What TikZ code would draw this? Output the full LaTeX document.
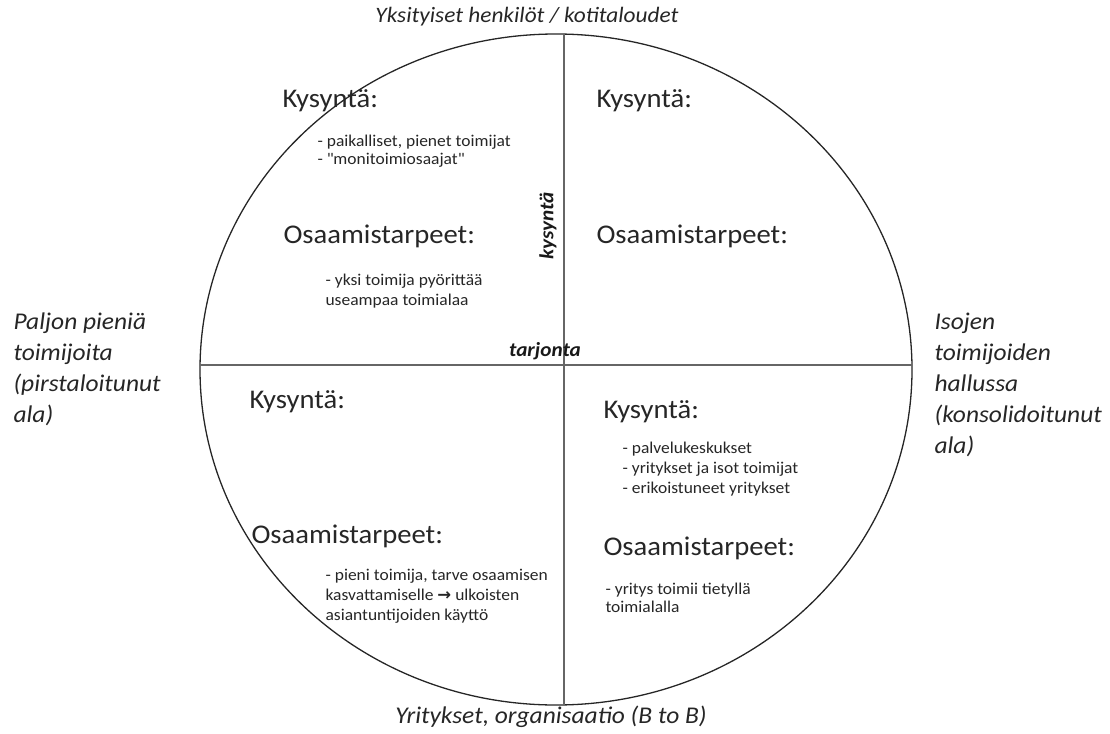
\documentclass[tikz,border=0pt]{standalone}
\usepackage{fontspec}
\setmainfont{Carlito}[FakeStretch=1.06]
\newfontfamily\arrowfont{DejaVu Sans}
\usetikzlibrary{positioning}

\tikzset{
  otsikko/.style={anchor=west, font=\fontsize{27}{30}\selectfont, text=black!85},
  lista/.style={anchor=west, align=left, font=\fontsize{16.5}{20}\selectfont, text=black!85},
  tiivis/.style={lista, font=\fontsize{16.5}{17.5}\selectfont},
  akseli/.style={font=\fontsize{24}{31}\selectfont\itshape, text=black!85, align=left},
  suunta/.style={font=\fontsize{20}{22}\selectfont\bfseries\itshape, text=black!90},
  viiva/.style={draw=black!60, line width=1.1pt}
}

\begin{document}
\begin{tikzpicture}[x=1pt, y=-1pt]
\useasboundingbox (0,0) rectangle (1110,733);

% ympyra ja akselit
\coordinate (keski) at (556,369.5);
\draw[line width=1.3pt, black!85] (keski) ellipse [x radius=356, y radius=335.5];

\coordinate (ylä) at (564,34);
\coordinate (ala) at (564,705);
\coordinate (vasen) at (200,365);
\coordinate (oikea) at (912,365);
\draw[viiva] (ylä) -- (ala);
\draw[viiva] (vasen) -- (oikea);

% akselien nimet
\node[akseli, font=\fontsize{22}{24}\selectfont\itshape] (koti) at (527,17) {Yksityiset henkilöt / kotitaloudet};
\node[akseli] (yrit) at (551,717) {Yritykset, organisaatio (B to B)};
\node[akseli, anchor=west] (pieni) at (10,369) {Paljon pieniä\\toimijoita\\(pirstaloitunut\\ala)};
\node[akseli, anchor=west] (iso) at (931,384.5) {Isojen\\toimijoiden\\hallussa\\(konsolidoitunut\\ala)};

\node[suunta, rotate=90] (kys) at (548,226) {kysyntä};
\node[suunta] (tarj) at (545,351) {tarjonta};

% vasen ylä
\node[otsikko] (k1) at (279,101) {Kysyntä:};
\node[tiivis] (k1l) at (314,151) {- paikalliset, pienet toimijat\\- \textquotedbl monitoimiosaajat\textquotedbl};
\node[otsikko] (o1) at (280,236) {Osaamistarpeet:};
\node[lista] (o1l) at (322,291) {- yksi toimija pyörittää\\useampaa toimialaa};

% oikea ylä
\node[otsikko] (k2) at (593,101) {Kysyntä:};
\node[otsikko] (o2) at (593,236) {Osaamistarpeet:};

% vasen ala
\node[otsikko] (k3) at (246,402) {Kysyntä:};
\node[otsikko] (o3) at (248,536) {Osaamistarpeet:};
\node[lista] (o3l) at (322,596) {- pieni toimija, tarve osaamisen\\kasvattamiselle {\arrowfont\bfseries →} ulkoisten\\asiantuntijoiden käyttö};

% oikea ala
\node[otsikko] (k4) at (600,412) {Kysyntä:};
\node[lista] (k4l) at (619,469) {- palvelukeskukset\\- yritykset ja isot toimijat\\- erikoistuneet yritykset};
\node[otsikko] (o4) at (600,548) {Osaamistarpeet:};
\node[tiivis] (o4l) at (602,598) {- yritys toimii tietyllä\\toimialalla};

\end{tikzpicture}
\end{document}
